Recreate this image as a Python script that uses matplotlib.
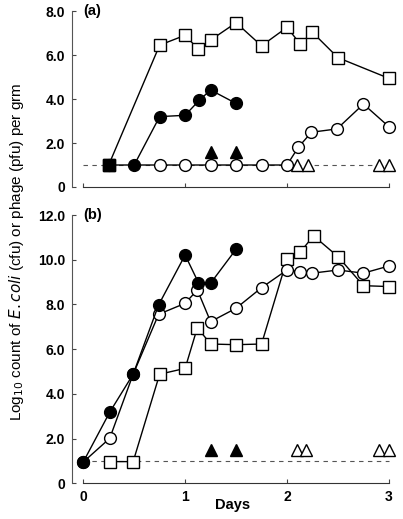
import numpy as np
import matplotlib
matplotlib.use('Agg')
import matplotlib.pyplot as plt

plt.rcParams['font.family'] = ['Liberation Sans', 'DejaVu Sans']

##### panel (a)
a_sq_x = [0.25, 0.75, 1.0, 1.13, 1.25, 1.5, 1.75, 2.0, 2.13, 2.25, 2.5, 3.0]
a_sq_y = [1.0, 6.45, 6.9, 6.26, 6.68, 7.47, 6.42, 7.26, 6.5, 7.03, 5.88, 4.94]
a_fsq_x = [0.25]
a_fsq_y = [1.0]
a_fc_x = [0.5, 0.75, 1.0, 1.14, 1.25, 1.5]
a_fc_y = [1.0, 3.2, 3.26, 3.95, 4.41, 3.8]
a_oc_x = [0.25, 0.75, 1.0, 1.25, 1.5, 1.75, 2.0, 2.11, 2.24, 2.49, 2.75, 3.0]
a_oc_y = [1.0, 1.0, 1.0, 1.0, 1.0, 1.0, 1.0, 1.8, 2.49, 2.64, 3.77, 2.74]
a_ftri_x = [1.25, 1.5]
a_ftri_y = [1.6, 1.6]
a_otri_x = [2.1, 2.21, 2.9, 3.0]
a_otri_y = [1.0, 1.0, 1.0, 1.0]

##### panel (b)
b_fc_x = [0.0, 0.26, 0.49, 0.74, 1.0, 1.13, 1.25, 1.5]
b_fc_y = [0.95, 3.18, 4.88, 7.98, 10.21, 8.98, 8.95, 10.47]
b_oc_x = [0.0, 0.26, 0.49, 0.74, 1.0, 1.12, 1.25, 1.5, 1.75, 2.0, 2.13, 2.25, 2.5, 2.75, 3.0]
b_oc_y = [0.95, 2.01, 4.88, 7.56, 8.05, 8.65, 7.23, 7.83, 8.75, 9.54, 9.47, 9.4, 9.54, 9.4, 9.72]
b_sq_x = [0.26, 0.49, 0.75, 1.0, 1.12, 1.25, 1.5, 1.75, 2.0, 2.13, 2.26, 2.5, 2.75, 3.0]
b_sq_y = [0.97, 0.97, 4.88, 5.14, 6.96, 6.23, 6.2, 6.23, 10.02, 10.34, 11.07, 10.14, 8.84, 8.8]
b_ftri_x = [1.25, 1.5]
b_ftri_y = [1.5, 1.5]
b_otri_x = [2.1, 2.19, 2.9, 3.0]
b_otri_y = [1.5, 1.5, 1.5, 1.5]

fig = plt.figure(figsize=(4.03, 5.19), dpi=100)
ax1 = fig.add_axes([0.1787, 0.6397, 0.799, 0.339])
ax2 = fig.add_axes([0.1787, 0.0688, 0.799, 0.5169])

lw = 1.0
ms_sq = 9
ms_c = 8.5
ms_t = 8.5

def style(ax, ymax, yticks, ylabels, show_x):
    ax.set_xlim(-0.11, 3.05)
    ax.set_ylim(0, ymax)
    for s in ['top', 'right']:
        ax.spines[s].set_visible(False)
    ax.spines['left'].set_color('#555555')
    ax.spines['bottom'].set_color('#333333')
    ax.spines['bottom'].set_bounds(0, 3)
    ax.set_xticks([0, 1, 2, 3])
    ax.set_yticks(yticks)
    ax.set_yticklabels(ylabels, fontweight='bold', fontsize=10)
    ax.tick_params(direction='in', length=3, width=0.8, color='#444444', pad=5)
    if show_x:
        ax.set_xticklabels(['0', '1', '2', '3'], fontweight='bold', fontsize=10)
    else:
        ax.set_xticklabels([])

# dashed detection limit
ax1.plot([0.0, 3.0], [1.0, 1.0], ls=(0, (4, 4)), color='#555555', lw=0.8, zorder=1)
ax2.plot([0.0, 3.0], [1.0, 1.0], ls=(0, (4, 4)), color='#555555', lw=0.8, zorder=1)

# panel a
ax1.plot(a_oc_x, a_oc_y, 'o-', color='black', mfc='white', mec='black', ms=ms_c, lw=lw, zorder=3)
ax1.plot(a_sq_x, a_sq_y, 's-', color='black', mfc='white', mec='black', ms=ms_sq, lw=lw, zorder=3)
ax1.plot(a_fc_x, a_fc_y, 'o-', color='black', mfc='black', ms=ms_c, lw=lw, zorder=4)
ax1.plot(a_fsq_x, a_fsq_y, 's', color='black', ms=ms_sq, zorder=5)
ax1.plot(a_ftri_x, a_ftri_y, '^', color='black', ms=ms_t, ls='none', zorder=4)
ax1.plot(a_otri_x, a_otri_y, '^', mfc='white', mec='black', ms=ms_t, ls='none', zorder=4)
ax1.text(0.0, 8.0, '(a)', fontweight='bold', fontsize=10.5, va='center')
style(ax1, 8, [0, 2, 4, 6, 8], ['0', '2.0', '4.0', '6.0', '8.0'], False)

# panel b
ax2.plot(b_sq_x, b_sq_y, 's-', color='black', mfc='white', mec='black', ms=ms_sq, lw=lw, zorder=3)
ax2.plot(b_oc_x, b_oc_y, 'o-', color='black', mfc='white', mec='black', ms=ms_c, lw=lw, zorder=3)
ax2.plot(b_fc_x, b_fc_y, 'o-', color='black', mfc='black', ms=ms_c, lw=lw, zorder=4)
ax2.plot(b_ftri_x, b_ftri_y, '^', color='black', ms=ms_t, ls='none', zorder=4)
ax2.plot(b_otri_x, b_otri_y, '^', mfc='white', mec='black', ms=ms_t, ls='none', zorder=4)
ax2.text(0.0, 12.0, '(b)', fontweight='bold', fontsize=10.5, va='center')
style(ax2, 12, [0, 2, 4, 6, 8, 10, 12], ['0', '2.0', '4.0', '6.0', '8.0', '10.0', '12.0'], True)

fig.text(0.578, 0.027, 'Days', fontweight='bold', fontsize=10.5, ha='center', va='center')
fig.text(0.04, 0.515, r'Log$_{10}$ count of $\it{E. coli}$ (cfu) or phage (pfu) per grm',
         rotation=90, va='center', ha='center', fontsize=11)

for ax in (ax1, ax2):
    for m in ax.lines:
        m.set_clip_on(False)

fig.savefig('out.png', dpi=100)
